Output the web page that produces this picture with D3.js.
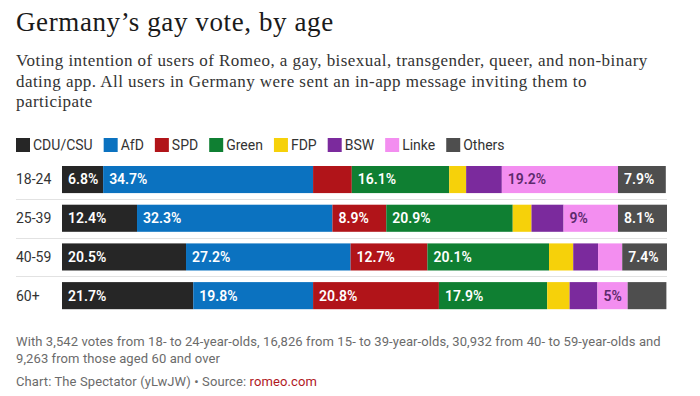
<!DOCTYPE html>
<html>
<head>
<meta charset="utf-8">
<script src="https://cdn.jsdelivr.net/npm/d3@7"></script>
<style>
  body { margin: 0; background: #fff; }
  svg { display: block; }
</style>
</head>
<body>
<div id="chart"></div>
<script>
// data
const parties = ["CDU/CSU", "AfD", "SPD", "Green", "FDP", "BSW", "Linke", "Others"];
const partyColors = ["#262626", "#0b72c0", "#b11419", "#0f7f32", "#f6d10a", "#7b2a9d", "#f38ef0", "#4e4e4e"];
const ages = ["18-24", "25-39", "40-59", "60+"];
const cduCsu = [6.8, 12.4, 20.5, 21.7];
const afd    = [34.7, 32.3, 27.2, 19.8];
const spd    = [6.4, 8.9, 12.7, 20.8];
const green  = [16.1, 20.9, 20.1, 17.9];
const fdp    = [2.8, 3.1, 4.0, 3.7];
const bsw    = [5.9, 5.3, 4.1, 4.6];
const linke  = [19.2, 9, 4.0, 5];
const others = [7.9, 8.1, 7.4, 6.4];

const titleText = "Germany\u2019s gay vote, by age";
const subtitleLines = [
  "Voting intention of users of Romeo, a gay, bisexual, transgender, queer, and non-binary",
  "dating app. All users in Germany were sent an in-app message inviting them to",
  "participate"
];
const noteLines = [
  "With 3,542 votes from 18- to 24-year-olds, 16,826 from 15- to 39-year-olds, 30,932 from 40- to 59-year-olds and",
  "9,263 from those aged 60 and over"
];

const W = 700, H = 396;
const margin = { left: 16, barLeft: 62, right: 33 };

const series = [cduCsu, afd, spd, green, fdp, bsw, linke, others];
const rows = ages.map((age, i) => {
  const r = { age };
  parties.forEach((p, j) => r[p] = series[j][i]);
  return r;
});
const stacked = d3.stack().keys(parties)(rows);

const svg = d3.select("#chart").append("svg")
  .attr("width", W)
  .attr("height", H);

svg.append("text")
  .attr("x", margin.left)
  .attr("y", 31)
  .attr("font-family", "'Liberation Serif', serif")
  .attr("font-size", 27)
  .attr("letter-spacing", 0.6)
  .attr("fill", "#1a1a1a")
  .text(titleText);

svg.append("g").selectAll("text")
  .data(subtitleLines)
  .join("text")
  .attr("x", margin.left)
  .attr("y", (d, i) => 66 + i * 20.5)
  .attr("font-family", "'Liberation Serif', serif")
  .attr("font-size", 17)
  .attr("letter-spacing", 0.45)
  .attr("fill", "#333")
  .text(d => d);

// legend
const color = d3.scaleOrdinal().domain(parties).range(partyColors);
const legend = svg.append("g").attr("transform", "translate(16,138)");
let lx = 0;
parties.forEach(p => {
  const item = legend.append("g").attr("transform", `translate(${lx},0)`);
  item.append("rect").attr("width", 14).attr("height", 14).attr("fill", color(p));
  const t = item.append("text")
    .attr("x", 17)
    .attr("y", 12)
    .attr("font-family", "Roboto, sans-serif")
    .attr("font-size", 14)
    .attr("fill", "#333")
    .text(p);
  lx += 17 + t.node().getComputedTextLength() + 11;
});

const x = d3.scaleLinear().domain([0, 100]).range([margin.barLeft, W - margin.right]);
const y = d3.scaleBand().domain(ages).range([160.2, 315]).paddingInner(0.3).paddingOuter(0.15);

// row separators
const step = y.step();
svg.append("g").selectAll("line")
  .data(ages.slice(1))
  .join("line")
  .attr("x1", margin.left)
  .attr("x2", W - margin.right)
  .attr("y1", d => Math.round(y(d) - (step - y.bandwidth()) / 2) + 0.5)
  .attr("y2", d => Math.round(y(d) - (step - y.bandwidth()) / 2) + 0.5)
  .attr("stroke", "#e2e2e2")
  .attr("stroke-width", 1);

// row labels
svg.append("g").selectAll("text")
  .data(ages)
  .join("text")
  .attr("x", margin.left)
  .attr("y", d => y(d) + y.bandwidth() / 2)
  .attr("dy", "0.35em")
  .attr("font-family", "Roboto, sans-serif")
  .attr("font-size", 14)
  .attr("fill", "#333")
  .text(d => d);

const groups = svg.append("g").selectAll("g")
  .data(stacked)
  .join("g")
  .attr("fill", d => color(d.key));

groups.selectAll("rect")
  .data(d => d)
  .join("rect")
  .attr("x", d => x(d[0]))
  .attr("y", d => y(d.data.age))
  .attr("width", d => x(d[1]) - x(d[0]))
  .attr("height", y.bandwidth());

// value labels, hidden where they do not fit
stacked.forEach(s => {
  s.forEach(d => {
    const segW = x(d[1]) - x(d[0]);
    const t = svg.append("text")
      .attr("x", x(d[0]) + 6)
      .attr("y", y(d.data.age) + y.bandwidth() / 2)
      .attr("dy", "0.35em")
      .attr("font-family", "Roboto, sans-serif")
      .attr("font-size", 14)
      .attr("font-weight", 600)
      .attr("fill", s.key === "Linke" ? "#5c2a6c" : "#fff")
      .text(`${d.data[s.key]}%`);
    if (t.node().getComputedTextLength() + 10 > segW) t.remove();
  });
});

// notes
svg.append("g").selectAll("text")
  .data(noteLines)
  .join("text")
  .attr("x", margin.left)
  .attr("y", (d, i) => 346 + i * 17)
  .attr("font-family", "Roboto, sans-serif")
  .attr("font-size", 13)
  .attr("letter-spacing", 0.1)
  .attr("fill", "#6b6b6b")
  .text(d => d);

const source = svg.append("text")
  .attr("x", margin.left)
  .attr("y", 386)
  .attr("font-family", "Roboto, sans-serif")
  .attr("font-size", 13)
  .attr("letter-spacing", 0.1)
  .attr("fill", "#6b6b6b");
source.append("tspan").text("Chart: The Spectator (yLwJW) \u2022 Source: ");
source.append("tspan").attr("fill", "#b0191e").text("romeo.com");
</script>
</body>
</html>
